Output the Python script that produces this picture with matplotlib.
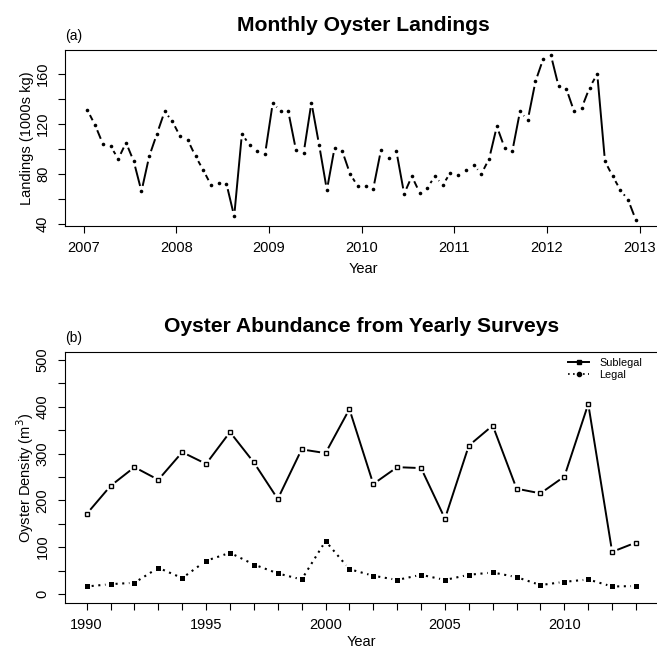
import numpy as np
import matplotlib
matplotlib.use('Agg')
import matplotlib.pyplot as plt
from matplotlib.lines import Line2D

plt.rcParams['font.family'] = ['Liberation Sans', 'DejaVu Sans']

# monthly landings (1000s kg), Jan 2007 - Dec 2012
landings = [131, 119, 104, 102, 92, 105, 90, 66, 94, 112, 130, 122,
            110, 107, 94, 83, 71, 73, 72, 46, 112, 103, 98, 96,
            137, 130, 130, 99, 97, 137, 103, 67, 101, 98, 80, 70,
            70, 68, 99, 93, 98, 64, 78, 65, 69, 78, 71, 81,
            79, 83, 87, 80, 92, 118, 101, 98, 130, 123, 154, 172,
            175, 150, 148, 130, 133, 149, 160, 90, 78, 67, 59, 43]
land_years = np.repeat(np.arange(2007, 2013), 12)
land_months = np.tile(np.arange(1, 13), 6)

# yearly survey densities
survey_years = np.arange(1990, 2014)
sublegal = [171, 231, 271, 244, 303, 278, 346, 281, 203, 309, 301, 395,
            235, 271, 269, 161, 317, 360, 225, 215, 251, 406, 90, 110]
legal = [16, 21, 24, 56, 34, 71, 88, 63, 44, 31, 113, 53,
         39, 30, 41, 30, 41, 46, 36, 19, 26, 31, 16, 17]

W, H = 657, 651


def px_axes(fig, left, right, top, bottom):
    # axes rectangle given in pixels from the top-left corner
    return fig.add_axes([left / W, 1 - bottom / H, (right - left) / W, (bottom - top) / H])


def draw_b(ax, x, y, gap, **kw):
    """like R type='b': segments stop short of each point"""
    pts = ax.transData.transform(np.column_stack([x, y]))
    inv = ax.transData.inverted()
    for i in range(len(pts) - 1):
        d = pts[i + 1] - pts[i]
        L = np.hypot(d[0], d[1])
        if L <= 2 * gap:
            continue
        u = d / L
        seg = inv.transform([pts[i] + u * gap, pts[i + 1] - u * gap])
        ax.plot(seg[:, 0], seg[:, 1], solid_capstyle='butt', **kw)


def style_axes(ax):
    for s in ax.spines.values():
        s.set_linewidth(0.8)
    ax.tick_params(which='both', direction='out', length=5.3, width=0.8,
                   labelsize=10.5, pad=5.5)
    for t in ax.get_yticklabels():
        t.set_rotation(90)
        t.set_va('center')


fig = plt.figure(figsize=(W / 100, H / 100), dpi=100)

# ---- (a) monthly landings
ax1 = px_axes(fig, 65, 662, 50, 226)
ax1.set_xlim(2006.80, 2013.24)
ax1.set_ylim(38.2, 179.2)
ax1.set_xticks(np.arange(2007, 2014))
ax1.set_yticks([40, 80, 120, 160])
ax1.set_yticks([60, 100, 140], minor=True)
style_axes(ax1)

t = land_years + (land_months - 0.5) / 12
draw_b(ax1, t, landings, 5.5, color='black', lw=1.4)
ax1.plot(t, landings, 'o', color='black', ms=2.6, mew=0)

ax1.set_title('Monthly Oyster Landings', fontsize=15.2, fontweight='bold', pad=13.5)
ax1.annotate('(a)', xy=(0, 1), xycoords='axes fraction', xytext=(0, 7),
             textcoords='offset points', ha='left', va='baseline', fontsize=10)
ax1.set_xlabel('Year', fontsize=10.5, labelpad=5)
ax1.set_ylabel('Landings (1000s kg)', fontsize=10.5)
ax1.yaxis.set_label_coords(-38 / 597, 0.5)
ax1.yaxis.label.set_va('center')

# ---- (b) yearly surveys
ax2 = px_axes(fig, 64.7, 658, 351.7, 603.3)
ax2.set_xlim(1989.08, 2013.92)
ax2.set_ylim(-19.9, 517.7)
ax2.set_xticks([1990, 1995, 2000, 2005, 2010])
ax2.set_xticks(survey_years, minor=True)
ax2.set_yticks(np.arange(0, 501, 100))
ax2.set_yticks(np.arange(50, 500, 100), minor=True)
style_axes(ax2)

draw_b(ax2, survey_years, sublegal, 5.5, color='black', lw=1.4)
ax2.plot(survey_years, sublegal, 's', mfc='white', mec='black', ms=3.2, mew=1)
draw_b(ax2, survey_years, legal, 5.0, color='black', lw=1.5, linestyle=(0, (1, 2.2)))
ax2.plot(survey_years, legal, 's', color='black', ms=3.6, mew=0)

ax2.set_title('Oyster Abundance from Yearly Surveys', fontsize=15.2, fontweight='bold', pad=14)
ax2.annotate('(b)', xy=(0, 1), xycoords='axes fraction', xytext=(0, 7),
             textcoords='offset points', ha='left', va='baseline', fontsize=10)
ax2.set_xlabel('Year', fontsize=10.5, labelpad=2)
ax2.set_ylabel('Oyster Density (m$^{3}$)', fontsize=10.5)
ax2.yaxis.set_label_coords(-40 / 593, 0.5)
ax2.yaxis.label.set_va('center')

handles = [Line2D([], [], color='black', lw=1.4, marker='s', ms=3),
           Line2D([], [], color='black', lw=1.2, linestyle=(0, (1, 2)), marker='o', ms=3)]
ax2.legend(handles, ['Sublegal', 'Legal'], loc='upper right', bbox_to_anchor=(0.973, 0.975),
           frameon=False, fontsize=7.8, borderpad=0, borderaxespad=0,
           handlelength=2.0, handletextpad=0.9, labelspacing=0.15)

fig.savefig('out.png', dpi=100)
